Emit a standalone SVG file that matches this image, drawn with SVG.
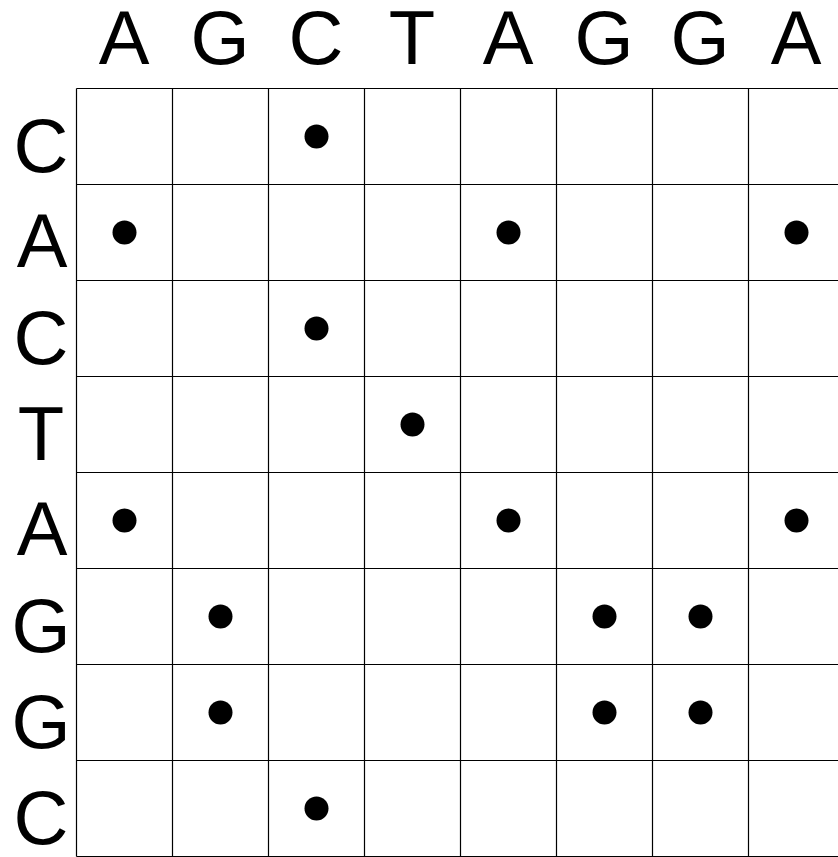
<svg xmlns="http://www.w3.org/2000/svg" width="838" height="857" viewBox="0 0 838 857">
<style>
.l{font-family:"Liberation Sans",Arial,sans-serif;font-size:76px;fill:#000;text-anchor:middle}
.g{stroke:#000;stroke-width:1.2;fill:none}
.d{fill:#000}
</style>
<rect width="838" height="857" fill="#fff"/>
<g id="col-labels">
<text class="l" x="124" y="64">A</text>
<text class="l" x="220" y="64">G</text>
<text class="l" x="316" y="64">C</text>
<text class="l" x="412" y="64">T</text>
<text class="l" x="508" y="64">A</text>
<text class="l" x="604" y="64">G</text>
<text class="l" x="700" y="64">G</text>
<text class="l" x="796" y="64">A</text>
</g>
<g id="row-labels">
<text class="l" x="41" y="172">C</text>
<text class="l" x="42" y="267">A</text>
<text class="l" x="41" y="364">C</text>
<text class="l" x="41" y="460">T</text>
<text class="l" x="42" y="555">A</text>
<text class="l" x="41" y="652">G</text>
<text class="l" x="41" y="748">G</text>
<text class="l" x="41" y="844">C</text>
</g>
<g id="grid" class="g">
<path d="M76.5 88.5H844M76.5 184.5H844M76.5 280.5H844M76.5 376.5H844M76.5 472.5H844M76.5 568.5H844M76.5 664.5H844M76.5 760.5H844M76.5 856.5H844"/>
<path d="M76.5 88.5V856.5M172.5 88.5V856.5M268.5 88.5V856.5M364.5 88.5V856.5M460.5 88.5V856.5M556.5 88.5V856.5M652.5 88.5V856.5M748.5 88.5V856.5"/>
</g>
<g id="dots" class="d">
<circle cx="316.5" cy="136.5" r="12"/>
<circle cx="124.5" cy="232.5" r="12"/>
<circle cx="508.5" cy="232.5" r="12"/>
<circle cx="796.5" cy="232.5" r="12"/>
<circle cx="316.5" cy="328.5" r="12"/>
<circle cx="412.5" cy="424.5" r="12"/>
<circle cx="124.5" cy="520.5" r="12"/>
<circle cx="508.5" cy="520.5" r="12"/>
<circle cx="796.5" cy="520.5" r="12"/>
<circle cx="220.5" cy="616.5" r="12"/>
<circle cx="604.5" cy="616.5" r="12"/>
<circle cx="700.5" cy="616.5" r="12"/>
<circle cx="220.5" cy="712.5" r="12"/>
<circle cx="604.5" cy="712.5" r="12"/>
<circle cx="700.5" cy="712.5" r="12"/>
<circle cx="316.5" cy="808.5" r="12"/>
</g>
</svg>
